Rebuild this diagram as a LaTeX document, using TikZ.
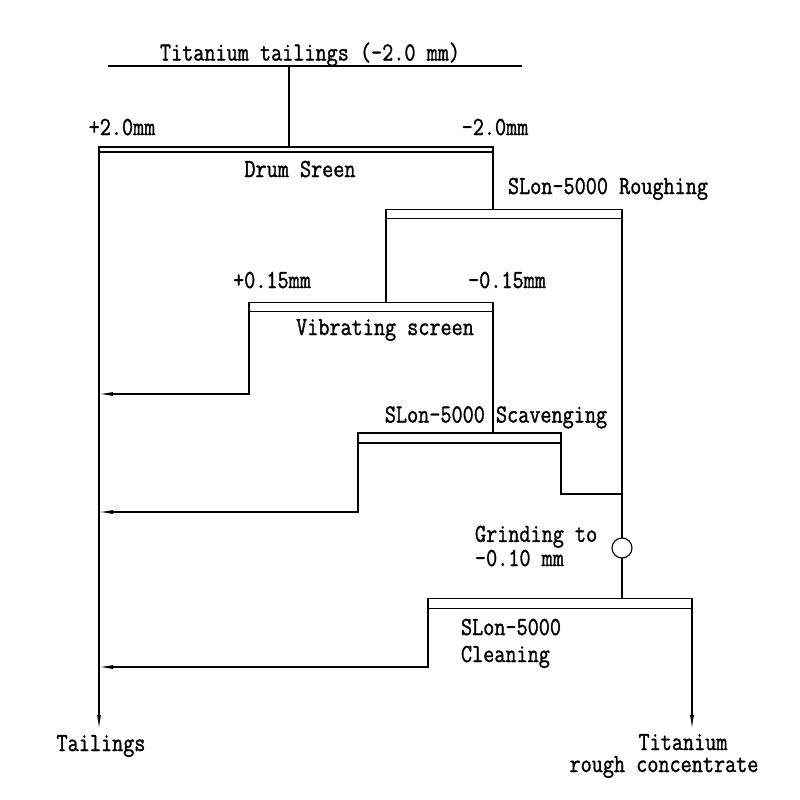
\documentclass[tikz,border=0pt]{standalone}
\usepackage{fontspec}
\setmonofont[FakeStretch=0.83,FakeBold=1.2]{Latin Modern Mono}
\usetikzlibrary{arrows.meta,calc}
\begin{document}
\begin{tikzpicture}[x=1pt,y=-1pt,
  every node/.style={font=\ttfamily\fontsize{26}{20}\selectfont, inner sep=0pt, outer sep=0pt},
  bar/.style={draw, line width=1.1pt, fill=white},
  ln/.style={line width=1.1pt},
  arr/.style={line width=1.1pt, -{Latex[length=14pt,width=4pt]}},
  lbl/.style={anchor=base},
  lbll/.style={anchor=base west, align=left}]
\useasboundingbox (0,0) rectangle (800,800);

% bars
\node[bar, minimum width=394pt, minimum height=5pt] (drum) at (296,149.5) {};
\node[bar, minimum width=236pt, minimum height=9pt] (rough) at (504,214) {};
\node[bar, minimum width=244pt, minimum height=9pt] (vib) at (371,307) {};
\node[bar, minimum width=203pt, minimum height=10pt] (scav) at (459.5,438) {};
\node[bar, minimum width=264pt, minimum height=10pt] (clean) at (560,603.5) {};
\node[draw, line width=1.1pt, circle, minimum size=20pt] (grind) at (622,548) {};

% labels
\node[lbl] (title) at (310,60.5) {Titanium tailings (-2.0 mm)};
\node[lbl] (p20) at (122,135) {+2.0mm};
\node[lbl] (m20) at (495,135) {-2.0mm};
\node[lbl] (drumlbl) at (300,177) {Drum Sreen};
\node[lbl] (roughlbl) at (608,194) {SLon-5000 Roughing};
\node[lbl] (p015) at (272,288) {+0.15mm};
\node[lbl] (m015) at (507,288) {-0.15mm};
\node[lbl] (viblbl) at (385,335) {Vibrating screen};
\node[lbl] (scavlbl) at (496,422.5) {SLon-5000 Scavenging};
\node[lbll] (grindlbl) at (475,566) {Grinding to\\[1pt]-0.10 mm};
\node[lbll] (cleanlbl) at (461,662) {SLon-5000\\[7pt]Cleaning};
\node[lbl] (tail) at (101,751) {Tailings};
\node[lbl, align=center] (conc) at (664,772) {\hspace*{38pt}Titanium\\[2pt]rough concentrate};

% coordinates
\coordinate (fl) at (108,66);
\coordinate (fr) at (522,66);
\coordinate (feed) at (289,66);
\coordinate (t1) at (99,394);
\coordinate (t2) at (99,512);
\coordinate (t3) at (99,667);
\coordinate (m) at (622,494);
\coordinate (tailend) at (99,729);
\coordinate (concend) at (692,729);

% connectors
\draw[ln] (fl) -- (fr);
\draw[ln] (feed) -- (feed |- drum.north);
\draw[arr] (drum.south west) -- (tailend);
\draw[ln] (drum.south east) -- (drum.south east |- rough.north);
\draw[ln] (rough.south west) -- (rough.south west |- vib.north);
\draw[arr] (vib.south west) |- (t1);
\draw[ln] (vib.south east) -- (vib.south east |- scav.north);
\draw[arr] (scav.south west) |- (t2);
\draw[ln] (scav.south east) |- (m);
\draw[ln] (rough.south east) -- (grind.north);
\draw[ln] (grind.south) -- (grind.south |- clean.north);
\draw[arr] (clean.south west) |- (t3);
\draw[arr] (clean.south east) -- (concend);
\end{tikzpicture}
\end{document}
